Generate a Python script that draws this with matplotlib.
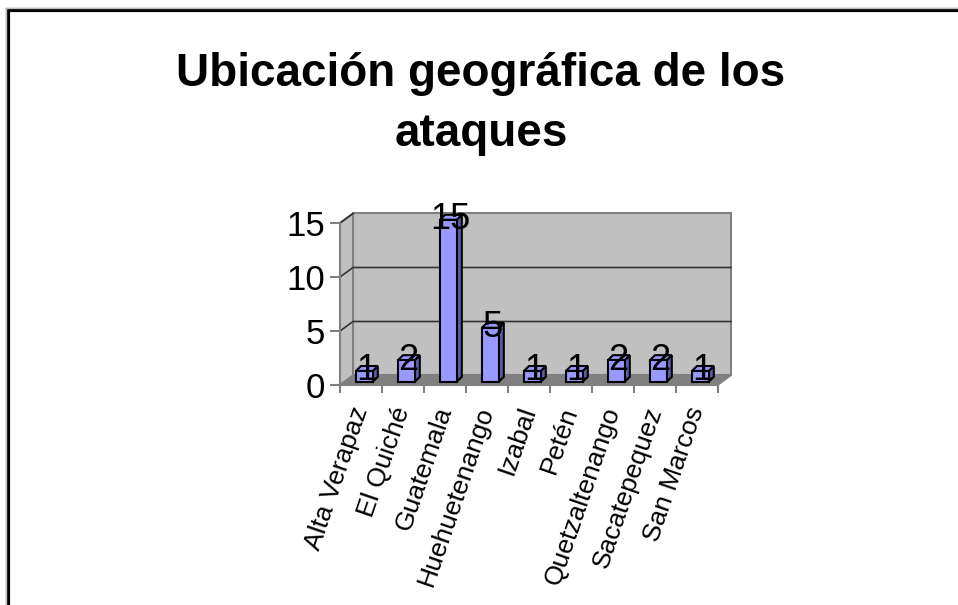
import matplotlib.pyplot as plt
import numpy as np
from matplotlib.patches import Polygon, Rectangle

plt.rcParams['font.family'] = ['Liberation Sans', 'DejaVu Sans']

# Data
departamentos = ['Alta Verapaz', 'El Quiché', 'Guatemala', 'Huehuetenango', 'Izabal',
                 'Petén', 'Quetzaltenango', 'Sacatepequez', 'San Marcos']
ataques = [1, 2, 15, 5, 1, 1, 2, 2, 1]
yticks = [0, 5, 10, 15]

n = len(departamentos)
ymax = 15

# pseudo 3D offsets (data units)
wdx, wdy = 0.31, 0.88      # wall depth
bdx, bdy = 0.12, 0.46      # bar depth
boff_x, boff_y = 0.08, 0.3  # bar set back from the front plane
bw = 0.40

front = '#9999FF'
side = '#5C5CA8'
wall = '#C0C0C0'
floor = '#808080'
edge_gray = '#808080'

fig = plt.figure(figsize=(9.58, 6.05), dpi=100)
ax = fig.add_axes([340 / 958, 1 - 385 / 605, 378 / 958, 162 / 605])
ax.set_xlim(0, n)
ax.set_ylim(0, ymax)

# back wall, side wall and floor
ax.add_patch(Polygon([(wdx, wdy), (n + wdx, wdy), (n + wdx, ymax + wdy), (wdx, ymax + wdy)],
                     closed=True, facecolor=wall, edgecolor=edge_gray, lw=1.5, clip_on=False, zorder=1))
ax.add_patch(Polygon([(0, 0), (wdx, wdy), (wdx, ymax + wdy), (0, ymax)],
                     closed=True, facecolor=wall, edgecolor=edge_gray, lw=1.5, clip_on=False, zorder=1))
ax.add_patch(Polygon([(0, 0), (n, 0), (n + wdx, wdy), (wdx, wdy)],
                     closed=True, facecolor=floor, edgecolor=edge_gray, lw=1, clip_on=False, zorder=1))

# gridlines
for v in yticks[1:-1]:
    ax.plot([0, wdx, n + wdx], [v, v + wdy, v + wdy], color='#333333', lw=1.2, clip_on=False, zorder=2)
ax.plot([0, wdx], [ymax, ymax + wdy], color='#333333', lw=1.2, clip_on=False, zorder=2)

# bars
x = np.arange(n)
x0 = x + 0.5 - bw / 2 + boff_x
ax.bar(x0, ataques, width=bw, bottom=boff_y, align='edge', color=front,
       edgecolor='black', linewidth=1.5, zorder=4, clip_on=False)
for xi, v in zip(x0, ataques):
    top = v + boff_y
    ax.add_patch(Polygon([(xi + bw, boff_y), (xi + bw + bdx, boff_y + bdy),
                          (xi + bw + bdx, top + bdy), (xi + bw, top)],
                         closed=True, facecolor=side, edgecolor='black', lw=1.5, zorder=3, clip_on=False))
    ax.add_patch(Polygon([(xi, top), (xi + bw, top), (xi + bw + bdx, top + bdy), (xi + bdx, top + bdy)],
                         closed=True, facecolor=front, edgecolor='black', lw=1.5, zorder=3, clip_on=False))
    ax.text(xi + bw / 2 + 0.05, top, str(v), ha='center', va='center', fontsize=26, zorder=6)

# axes
for s in ['top', 'right']:
    ax.spines[s].set_visible(False)
for s in ['left', 'bottom']:
    ax.spines[s].set_color(edge_gray)
    ax.spines[s].set_linewidth(1.5)
    ax.spines[s].set_zorder(5)

ax.set_yticks(yticks)
ax.set_yticklabels([str(t) for t in yticks], fontsize=25)
ax.tick_params(axis='y', color=edge_gray, length=7, width=1.5, pad=4)

ax.set_xticks(np.arange(n + 1))
ax.set_xticklabels([])
ax.tick_params(axis='x', which='major', color=edge_gray, length=6, width=1.5)
ax.set_xticks(x + 0.5, minor=True)
ax.set_xticklabels(departamentos, minor=True, rotation=71, ha='right', va='center',
                   rotation_mode='anchor', fontsize=19)
ax.tick_params(axis='x', which='minor', length=0, pad=16)

fig.text(481 / 958, 1 - 104 / 605, 'Ubicación geográfica de los\nataques', ha='center', va='center',
         fontsize=33, fontweight='bold', linespacing=1.5)

# chart frame
fig.add_artist(Rectangle((8 / 958, -0.1), 1.2, 1 - 10 / 605 + 0.1, transform=fig.transFigure,
                         fill=False, edgecolor='black', lw=3))
fig.add_artist(Rectangle((6 / 958, -0.1), 1.2, 1 - 8 / 605 + 0.1, transform=fig.transFigure,
                         fill=False, edgecolor='#BBBBBB', lw=1))

fig.savefig('out.png', dpi=100)
